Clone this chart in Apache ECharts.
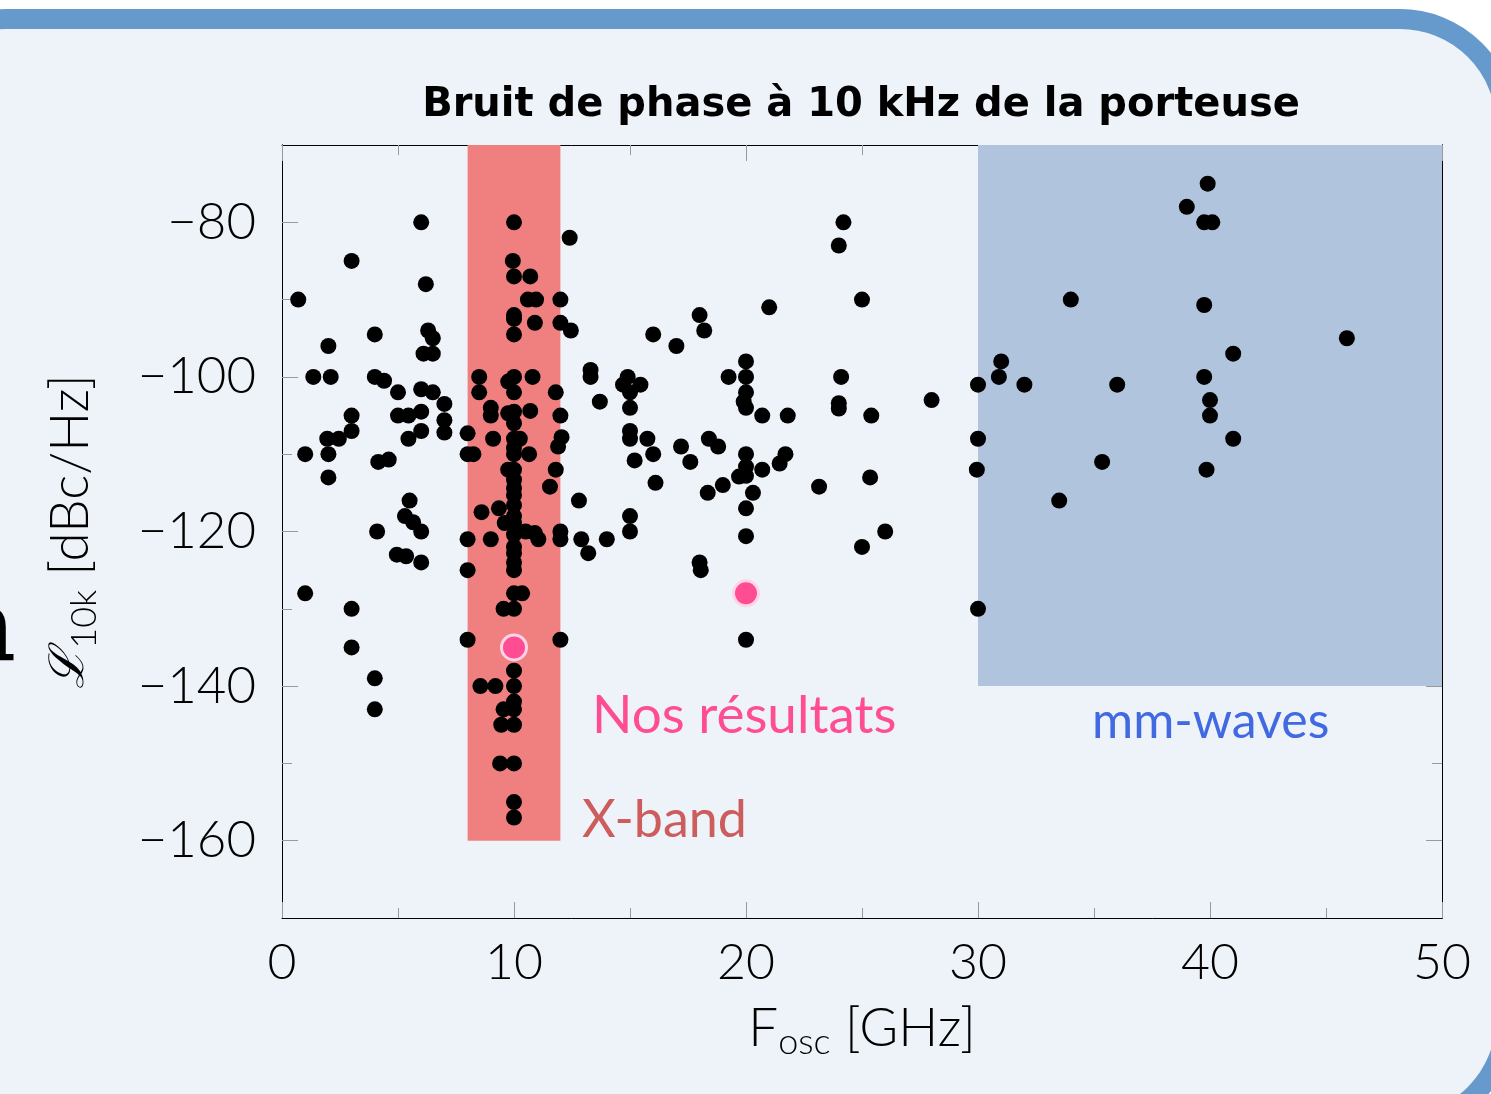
<!DOCTYPE html>
<html>
<head>
<meta charset="utf-8">
<script src="https://cdn.jsdelivr.net/npm/echarts@6/dist/echarts.min.js"></script>
<style>
html, body { margin: 0; padding: 0; background: #fff; }
#chart { width: 1491px; height: 1094px; }
</style>
</head>
<body>
<div id="chart"></div>
<script>
// données : [F_osc (GHz), L10k (dBc/Hz)]
var etatArt = [
  [6,-80],[3,-85],[6.2,-88],[0.7,-90],[4,-94.5],[6.3,-94],[6.5,-95],[6.1,-97],[6.5,-97],[2,-96],
  [1.35,-100],[2.1,-100],[4,-100],[4.4,-100.5],[5,-102],[6,-101.6],[6.5,-102],[7,-103.5],
  [5,-105],[5.45,-105],[6,-104.5],[7,-105.6],[7,-107.2],[6,-107],[5.45,-108],
  [3,-105],[3,-107],[2.45,-108],[1.95,-108],[1,-110],[2,-110],[2,-113],[4.15,-111],[4.6,-110.7],
  [5.5,-116],[5.3,-118],[5.65,-118.8],[6,-120],[4.1,-120],
  [4.95,-123],[5.35,-123.2],[6,-124],[1,-128],[3,-130],[3,-135],[4,-139],[4,-143],
  // bande X
  [8,-107.3],[8,-110],[8.25,-110],[10,-80],[12.4,-82],[9.95,-85],[10,-87],[10.7,-87],[10.6,-90],[10.95,-90],[12,-90],
  [10,-92],[10,-92.5],[10.9,-93],[10,-94.5],[12,-93],[12.45,-94],
  [8.5,-100],[10,-100],[10.8,-100],[9.75,-100.6],[10,-102],[8.5,-102],[11.8,-102],
  [9,-104],[9,-105],[9.75,-104.7],[10,-104.5],[10,-106],[10.7,-104.4],[12,-105],
  [9.1,-108],[10,-108],[10.25,-108],[10,-109.2],[10,-110],[10.65,-110],[12.05,-107.8],[11.9,-109],
  [9.75,-112],[10,-112],[11.8,-112],[10,-113.3],[10,-114.4],[10,-115.3],[11.55,-114.2],[12.8,-116],
  [8.6,-117.5],[9.35,-117],[10,-116.6],[10,-118],[9.6,-118.9],[10,-118.9],
  [8,-121],[9,-121],[10,-120.4],[10.5,-120],[10.9,-120.2],[12,-120],[12,-121],[11.05,-121],[12.9,-121],
  [10,-122],[10,-122.8],[10,-124],[10,-125],[8,-125],[10,-128],[10.35,-128],[9.55,-130],[10,-130],
  [8,-134],[12,-134],[10,-138],[8.55,-140],[9.2,-140],[10,-140],[10,-142],[9.55,-143],[10,-143],
  [9.45,-145],[10,-145],[9.4,-150],[10,-150],[10,-155],[10,-157],
  // milieu
  [21,-91],[18,-92],[18.2,-94],[16,-94.5],[17,-96],[20,-98],[19.25,-100],[20,-100],[20,-102],[19.9,-103.2],[20,-104],[20.7,-105],[21.8,-105],
  [13.3,-99.1],[13.3,-100],[14.9,-100],[14.7,-101],[15.45,-101],[15,-102],[15,-104],[13.7,-103.2],
  [15,-107],[15,-108],[15.75,-108],[16,-110],[15.2,-110.8],[16.1,-113.7],[17.2,-109],[17.6,-111],[18.4,-108],[18.8,-109],
  [20,-110],[20,-111.6],[19.7,-112.9],[20,-112.8],[20.7,-112],[20.3,-115],[20,-117],[20,-120.6],[19,-114],[18.35,-115],[21.7,-110],[21.45,-111.2],
  [15,-118],[15,-120],[14,-121],[13.2,-122.8],[18,-124],[18.05,-125],[20,-134],
  // droite
  [24.2,-80],[24,-83],[25,-90],[24.1,-100],[24,-103.4],[24,-104.1],[25.4,-105],[28,-103],[30,-101],[30,-108],[29.95,-112],
  [23.15,-114.2],[25.35,-113],[26,-120],[25,-122],[30,-130],
  [39.9,-75],[39,-78],[39.75,-80],[40.1,-80],[34,-90],[39.75,-90.7],[41,-97],[31,-98],[30.9,-100],[32,-101],[36,-101],
  [39.75,-100],[40,-103],[40,-105],[41,-108],[35.35,-111],[39.85,-112],[33.5,-116],[45.9,-95]
];
var nosResultats = [[10,-135],[20,-128]];

// zones : [xmin, xmax, ymin, ymax]
var xBand = [8, 12, -160, -70];
var mmWaves = [30, 50, -140, -70];

var yMajor = [-160,-140,-120,-100,-80];
var yMinor = [-150,-130,-110,-90];

var tickFont = 'Lato';
var black = '#000';
var tickGray = '#999';

function moins(v) { return v < 0 ? '\u2212' + Math.abs(v) : '' + v; }

var myChart = echarts.init(document.getElementById('chart'));

function yAx(pos, ticks, len, labels) {
  return {
    type: 'value', position: pos, min: -170, max: -70,
    axisLine: { show: true, onZero: false, lineStyle: { color: black, width: 1 } },
    axisTick: { show: true, inside: true, length: len, customValues: ticks, lineStyle: { color: tickGray } },
    axisLabel: labels ? {
      show: true, customValues: yMajor, formatter: moins, margin: 26,
      fontFamily: tickFont, fontWeight: 300, fontSize: 51, color: black
    } : { show: false },
    splitLine: { show: false }
  };
}

var option = {
  backgroundColor: 'transparent',
  animation: false,
  title: {
    text: 'Bruit de phase à 10 kHz de la porteuse',
    left: 856, top: 81, textAlign: 'center',
    textStyle: { fontFamily: 'DejaVu Sans', fontWeight: 'bold', fontSize: 40, color: black }
  },
  grid: { left: 282, right: 49, top: 145, bottom: 176 },
  xAxis: [{
    type: 'value', position: 'bottom', min: 0, max: 50, interval: 10,
    axisLine: { show: true, onZero: false, lineStyle: { color: black, width: 1 } },
    axisTick: { show: true, inside: true, length: 16, lineStyle: { color: tickGray } },
    minorTick: { show: true, splitNumber: 2, length: 10, lineStyle: { color: tickGray } },
    axisLabel: { margin: 20, fontFamily: tickFont, fontWeight: 300, fontSize: 50, color: black },
    splitLine: { show: false }, minorSplitLine: { show: false },
    name: '{m|F}{s|osc}{m| [GHz]}', nameLocation: 'middle', nameGap: 80,
    nameTextStyle: {
      rich: {
        m: { fontFamily: tickFont, fontWeight: 300, fontSize: 53, color: black, lineHeight: 62, verticalAlign: 'middle' },
        s: { fontFamily: tickFont, fontWeight: 300, fontSize: 36, color: black, lineHeight: 62, verticalAlign: 'bottom' }
      }
    }
  }, {
    type: 'value', position: 'top', min: 0, max: 50, interval: 10,
    axisLine: { show: true, onZero: false, lineStyle: { color: black, width: 1 } },
    axisTick: { show: true, inside: true, length: 16, lineStyle: { color: tickGray } },
    minorTick: { show: true, splitNumber: 2, length: 10, lineStyle: { color: tickGray } },
    axisLabel: { show: false }, splitLine: { show: false }, minorSplitLine: { show: false }
  }],
  yAxis: [
    Object.assign(yAx('left', yMajor, 16, true), {
      name: '{l|\u2112}{s|10k}{m| [dBc/Hz]}', nameLocation: 'middle', nameRotate: 90, nameGap: 180,
      nameTextStyle: {
        rich: {
          l: { fontFamily: 'DejaVu Serif', fontStyle: 'italic', fontSize: 48, color: black, lineHeight: 62, verticalAlign: 'middle' },
          m: { fontFamily: tickFont, fontWeight: 300, fontSize: 53, color: black, lineHeight: 62, verticalAlign: 'middle' },
          s: { fontFamily: tickFont, fontWeight: 300, fontSize: 36, color: black, lineHeight: 62, verticalAlign: 'bottom' }
        }
      }
    }),
    yAx('left', yMinor, 10, false),
    yAx('right', yMajor, 16, false),
    yAx('right', yMinor, 10, false)
  ],
  graphic: [{
    type: 'rect', z: -10, silent: true,
    shape: { x: -100, y: 19, width: 1606, height: 1106, r: 106 },
    style: { fill: '#eef3fa', stroke: '#6699cc', lineWidth: 20 }
  }, {
    type: 'text', z: 10, silent: true, x: 16, y: 686,
    style: { text: 'a', font: 'bold 104px "DejaVu Serif"', fill: black, align: 'right', verticalAlign: 'bottom' }
  }, {
    type: 'text', z: 10, silent: true, x: 592, y: 716,
    style: { text: 'Nos résultats', font: '53px Lato', fill: '#ff4d94', align: 'left', verticalAlign: 'middle' }
  }, {
    type: 'text', z: 10, silent: true, x: 582, y: 820,
    style: { text: 'X-band', font: '52px Lato', fill: '#cd5c5c', align: 'left', verticalAlign: 'middle' }
  }, {
    type: 'text', z: 10, silent: true, x: 1092, y: 722,
    style: { text: 'mm-waves', font: '50px Lato', fill: '#4169e1', align: 'left', verticalAlign: 'middle' }
  }],
  series: [{
    name: 'zones', type: 'scatter', z: 1, data: [], silent: true,
    markArea: {
      silent: true,
      data: [
        [{ xAxis: xBand[0], yAxis: xBand[3], itemStyle: { color: '#f08080', opacity: 1 } }, { xAxis: xBand[1], yAxis: xBand[2] }],
        [{ xAxis: mmWaves[0], yAxis: mmWaves[3], itemStyle: { color: '#b0c4de', opacity: 1 } }, { xAxis: mmWaves[1], yAxis: mmWaves[2] }]
      ]
    }
  }, {
    name: 'état de l\'art', type: 'scatter', z: 3, symbolSize: 16,
    itemStyle: { color: black, opacity: 1 },
    data: etatArt
  }, {
    name: 'Nos résultats', type: 'scatter', z: 4, symbolSize: 25,
    itemStyle: { color: '#ff4d94', borderColor: '#ffd3e8', borderWidth: 3, opacity: 1 },
    data: nosResultats
  }]
};

myChart.setOption(option);
</script>
</body>
</html>
